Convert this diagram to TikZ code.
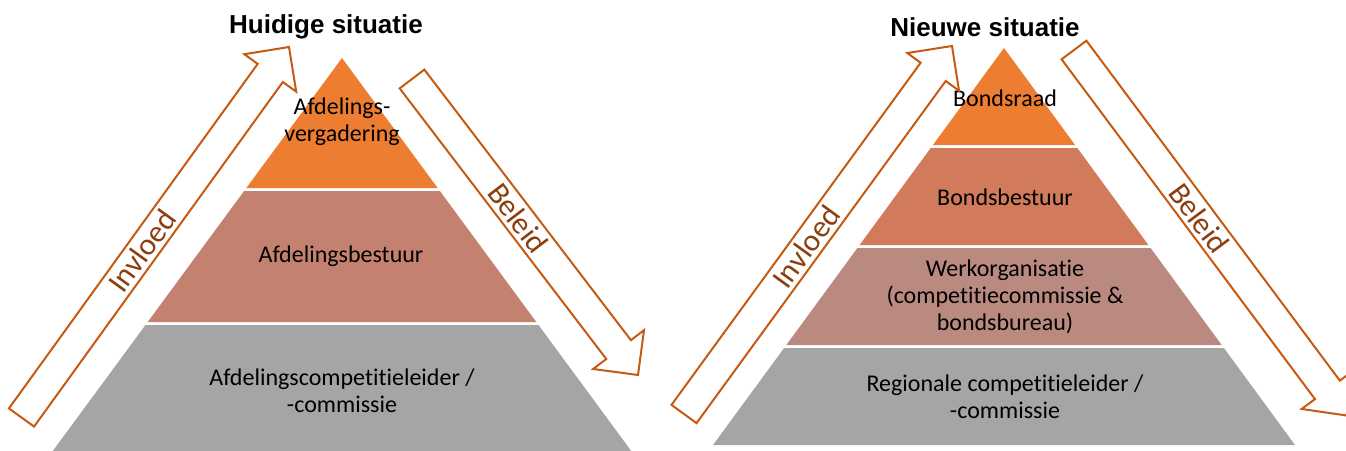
\documentclass[tikz,border=0pt]{standalone}
\usepackage{fontspec}
\setmainfont{Carlito}[Ligatures=NoCommon]
\newfontfamily\titlefont{Liberation Sans}
\usetikzlibrary{calc}
\definecolor{topor}{HTML}{ED7D31}
\definecolor{lmid}{HTML}{C48170}
\definecolor{rmid}{HTML}{D27A5C}
\definecolor{rwerk}{HTML}{BA8A80}
\definecolor{tgray}{HTML}{A5A5A5}
\definecolor{arrline}{HTML}{C55A11}
\definecolor{arrtext}{HTML}{8B3F0E}
\tikzset{
  arrowbox/.style={draw=arrline, line width=2pt, fill=white, line join=miter},
  arrowlabel/.style={text=arrtext, font=\fontsize{31}{34}\selectfont, inner sep=0pt},
  tiertext/.style={align=center, font=\fontsize{24}{27}\selectfont, text=black, inner sep=0pt},
  titletext/.style={font=\titlefont\bfseries\fontsize{26}{30}\selectfont, inner sep=0pt}
}
\newcommand\tier[6]{\fill[#6] ({#1-#3*(#4-#2)},#4) -- ({#1+#3*(#4-#2)},#4) -- ({#1+#3*(#5-#2)},#5) -- ({#1-#3*(#5-#2)},#5) -- cycle;}
\newcommand\blockarrow[5]{%
  \coordinate (#1T) at #2;
  \coordinate (#1P) at #3;
  \coordinate (#1H) at ($(#1P)!32pt!(#1T)$);
  \draw[arrowbox] ($(#1T)!15.5pt!90:(#1P)$) -- ($(#1H)!15.5pt!90:(#1P)$) -- ($(#1H)!32pt!90:(#1P)$) -- (#1P)
     -- ($(#1H)!32pt!-90:(#1P)$) -- ($(#1H)!15.5pt!-90:(#1P)$) -- ($(#1T)!15.5pt!-90:(#1P)$) -- cycle;
  \path (#1T) -- (#1P) node[sloped, pos=#4, arrowlabel] (#1L) {#5};
}
\begin{document}
\begin{tikzpicture}[x=1pt,y=-1pt]
\useasboundingbox (0,0) rectangle (1346,450);
\clip (0,0) rectangle (1346,450);
% left pyramid
\tier{342}{58}{0.736}{58}{188}{topor}
\tier{342}{58}{0.736}{191}{322}{lmid}
\tier{342}{58}{0.736}{325}{451}{tgray}
% right pyramid
\tier{1004}{48}{0.733}{48}{145}{topor}
\tier{1004}{48}{0.733}{148}{245}{rmid}
\tier{1004}{48}{0.733}{248}{345}{rwerk}
\tier{1004}{48}{0.733}{348}{445}{tgray}
% titles
\node[titletext] (t1) at (326,27) {Huidige situatie};
\node[titletext] (t2) at (985,27) {Nieuwe situatie};
% texts
\node[tiertext] (l1) at (342,122) {Afdelings-\\vergadering};
\node[tiertext] (l2) at (341,256) {Afdelingsbestuur};
\node[tiertext] (l3) at (342,391) {Afdelingscompetitieleider /\\-commissie};
\node[tiertext] (r1) at (1005,98) {Bondsraad};
\node[tiertext] (r2) at (1005,197) {Bondsbestuur};
\node[tiertext] (r3) at (1005,297) {Werkorganisatie\\(competitiecommissie \&\\bondsbureau)};
\node[tiertext] (r4) at (1005,397) {Regionale competitieleider /\\-commissie};
% arrows
\blockarrow{a}{(21.5,417.5)}{(289,47)}{0.45}{Invloed}
\blockarrow{b}{(412,79)}{(638,375)}{0.47}{Beleid}
\blockarrow{c}{(684,414)}{(952,46)}{0.455}{Invloed}
\blockarrow{d}{(1074,50)}{(1346.5,415.5)}{0.46}{Beleid}
\end{tikzpicture}
\end{document}
